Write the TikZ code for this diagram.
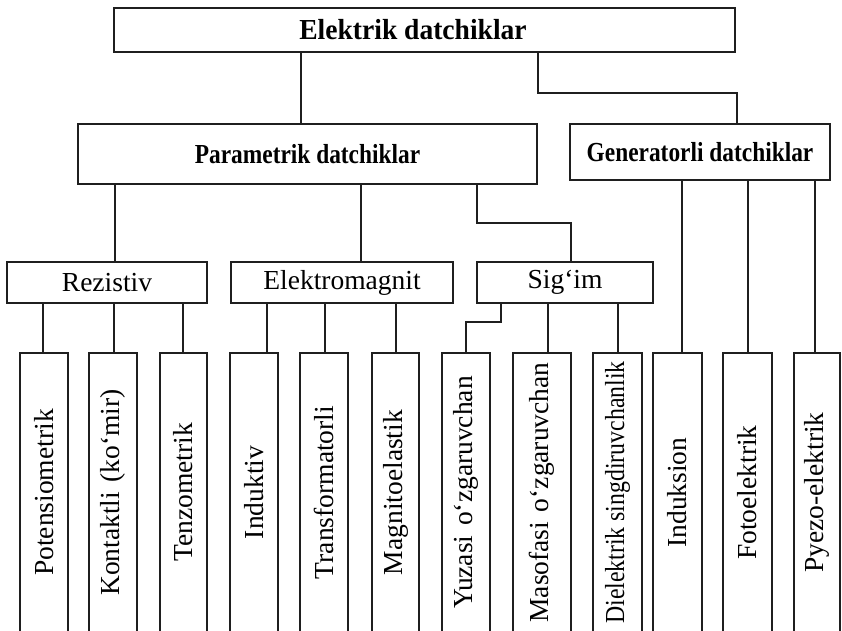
\documentclass[tikz,border=0pt]{standalone}
\usepackage{fontspec}
\setmainfont{Liberation Serif}
\newcommand\vconn[3]{\coordinate (tmpx) at (#3,0); \draw[conn] (#1.south -| tmpx) -- (#2.north -| tmpx);}
\begin{document}
\begin{tikzpicture}[x=1pt,y=-1pt,
  every node/.style={inner sep=0pt, outer sep=0pt},
  bx/.style={draw=black!88, line width=2pt, rectangle, align=center,
    font=\fontsize{27.5}{30}\selectfont},
  hd/.style={bx, font=\fontsize{27.5}{30}\selectfont\bfseries},
  openbx/.style={rectangle, minimum height=279, font=\fontsize{27.5}{30}\selectfont},
  conn/.style={draw=black!88, line width=2pt},
  side/.style={draw=black!88, line width=2pt}]
\clip (0,0) rectangle (842,630);
\fill[white] (0,0) rectangle (842,630);
% level 1
\node[hd, minimum width=621, minimum height=44] (top) at (424.5,30)
  {\scalebox{0.95}[1]{\fontsize{29}{30}\selectfont Elektrik datchiklar}\hspace*{23pt}};
% level 2
\node[hd, minimum width=459, minimum height=60] (P) at (307.5,154)
  {\scalebox{0.85}[1]{Parametrik datchiklar}};
\node[hd, minimum width=260, minimum height=56] (G) at (700,152)
  {\scalebox{0.85}[1]{Generatorli datchiklar}};
% level 3
\node[bx, minimum width=200, minimum height=41] (R) at (107,282.5) {Rezistiv};
\node[bx, minimum width=222, minimum height=41] (E) at (342,282.5) {Elektromagnit};
\node[bx, minimum width=176, minimum height=41] (S) at (565,282.5) {Sig‘im};
% level 4 (open at the bottom)
\node[openbx, minimum width=48] (b1) at (44,492.5) {\rotatebox{90}{Potensiometrik}};
\node[openbx, minimum width=48] (b2) at (113,492.5) {\rotatebox{90}{Kontaktli\hspace{0.35em}(ko‘mir)}};
\node[openbx, minimum width=47] (b3) at (183.5,492.5) {\rotatebox{90}{Tenzometrik}};
\node[openbx, minimum width=48] (b4) at (254,492.5) {\rotatebox{90}{Induktiv}};
\node[openbx, minimum width=48] (b5) at (324,492.5) {\rotatebox{90}{Transformatorli}};
\node[openbx, minimum width=47] (b6) at (395.5,492.5) {\rotatebox{90}{Magnitoelastik}};
\node[openbx, minimum width=48] (b7) at (466,492.5) {\rotatebox{90}{Yuzasi\hspace{0.35em}o‘zgaruvchan}};
\node[openbx, minimum width=58] (b8) at (542,492.5) {\rotatebox{90}{Masofasi\hspace{0.35em}o‘zgaruvchan}};
\node[openbx, minimum width=49] (b9) at (617.5,492.5) {\rotatebox{90}{\scalebox{0.865}[1]{Dielektrik singdiruvchanlik}}};
\node[openbx, minimum width=49] (b10) at (677.5,492.5) {\rotatebox{90}{Induksion}};
\node[openbx, minimum width=49] (b11) at (747.5,492.5) {\rotatebox{90}{Fotoelektrik}};
\node[openbx, minimum width=46] (b12) at (817,492.5) {\rotatebox{90}{Pyezo-elektrik}};
\foreach \n in {b1,b2,b3,b4,b5,b6,b7,b8,b9,b10,b11,b12}
  \draw[side] (\n.south west) -- (\n.north west) -- (\n.north east) -- (\n.south east);
% connectors level 1 -> 2
\vconn{top}{P}{301}
\coordinate (k1) at (538,93);
\coordinate (k2) at (737,93);
\draw[conn] (top.south -| k1) -- (k1) -- (k2) -- (G.north -| k2);
% level 2 -> 3
\vconn{P}{R}{115}
\vconn{P}{E}{361}
\coordinate (k3) at (477,223);
\coordinate (k4) at (571,223);
\draw[conn] (P.south -| k3) -- (k3) -- (k4) -- (S.north -| k4);
% Generatorli -> level 4
\vconn{G}{b10}{682}
\vconn{G}{b11}{748}
\vconn{G}{b12}{815}
% level 3 -> 4
\vconn{R}{b1}{43}
\vconn{R}{b2}{114}
\vconn{R}{b3}{183}
\vconn{E}{b4}{267}
\vconn{E}{b5}{325}
\vconn{E}{b6}{396}
\coordinate (k5) at (501,322);
\coordinate (k6) at (466,322);
\draw[conn] (S.south -| k5) -- (k5) -- (k6) -- (b7.north -| k6);
\vconn{S}{b8}{548}
\vconn{S}{b9}{618}
\end{tikzpicture}
\end{document}
